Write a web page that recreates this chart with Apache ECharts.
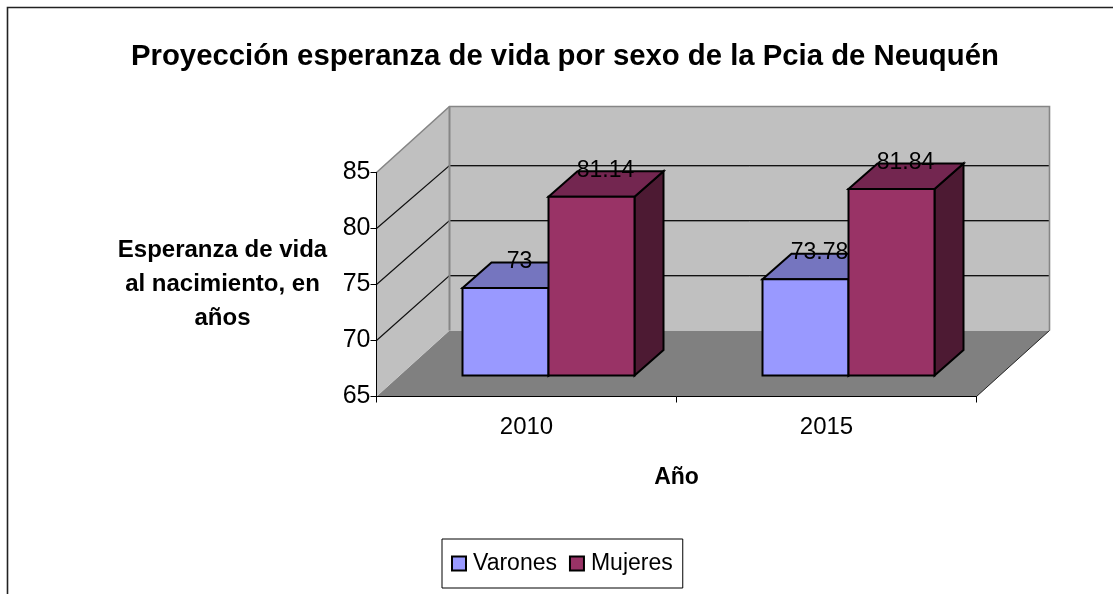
<!DOCTYPE html>
<html><head><meta charset="utf-8">
<style>html,body{margin:0;padding:0;background:#fff;overflow:hidden}#c{width:1113px;height:594px}</style>
<script src="https://cdn.jsdelivr.net/npm/echarts@6/dist/echarts.min.js"></script>
</head><body><div id="c"></div>
<script>
const categories = ['2010', '2015'];
const seriesNames = ['Varones', 'Mujeres'];
const varones = [73, 73.78];
const mujeres = [81.14, 81.84];
const yGridValues = [70, 75, 80];

const FONT = '"Liberation Sans", Arial, sans-serif';
const WALL_DX = 73, WALL_DY = -66;
const BAR_DX = 29, BAR_DY = -25.5;
const BAR_FLOOR_DY = -21, BAR_TOP_DY = -19;
const BAR_SHIFT = 22, BAR_RATIO = 86 / 300;

const chart = echarts.init(document.getElementById('c'), null, { renderer: 'canvas' });

function renderWalls(params, api) {
  const cs = params.coordSys;
  const L = cs.x, R = cs.x + cs.width, T = cs.y, B = cs.y + cs.height;
  const backY = y => (B + WALL_DY) - (B - y) * 0.982;
  const children = [
    { type: 'polygon', shape: { points: [[L, B], [L + WALL_DX, B + WALL_DY], [R + WALL_DX, B + WALL_DY], [R, B]] },
      style: { fill: '#808080' } },
    { type: 'polygon', shape: { points: [[L, T], [L + WALL_DX, T + WALL_DY], [L + WALL_DX, B + WALL_DY], [L, B]] },
      style: { fill: '#C0C0C0' } },
    { type: 'rect', shape: { x: L + WALL_DX, y: T + WALL_DY, width: R - L, height: B - T },
      style: { fill: '#C0C0C0' } }
  ];
  yGridValues.forEach(v => {
    const y = api.coord([0, v])[1];
    const by = backY(y);
    children.push({ type: 'polyline', shape: { points: [[L, y], [L + WALL_DX, by], [R + WALL_DX, by]] },
      style: { fill: null, stroke: '#111', lineWidth: 1.2 } });
    children.push({ type: 'line', shape: { x1: L + WALL_DX, y1: by + 1, x2: R + WALL_DX, y2: by + 1 },
      style: { stroke: '#808080', lineWidth: 1 } });
  });
  children.push({ type: 'polyline', shape: { points: [[L, T], [L + WALL_DX, T + WALL_DY], [R + WALL_DX, T + WALL_DY], [R + WALL_DX, B + WALL_DY]] },
    style: { fill: null, stroke: '#868686', lineWidth: 1.6 } });
  children.push({ type: 'line', shape: { x1: L + WALL_DX, y1: T + WALL_DY, x2: L + WALL_DX, y2: B + WALL_DY },
    style: { stroke: '#868686', lineWidth: 2 } });
  children.push({ type: 'line', shape: { x1: R, y1: B, x2: R + WALL_DX, y2: B + WALL_DY },
    style: { stroke: '#222', lineWidth: 1 } });
  return { type: 'group', children };
}

function barRenderer(index, front, top, side) {
  return function (params, api) {
    const w = api.size([1, 0])[0] * BAR_RATIO;
    const c = api.coord([api.value(0), api.value(1)]);
    const base = api.coord([api.value(0), 65]);
    const x0 = c[0] + BAR_SHIFT + (index - 1) * w;
    const x1 = x0 + w;
    const yT = c[1] + BAR_TOP_DY;
    const yB = base[1] + BAR_FLOOR_DY;
    const stroke = { stroke: '#000', lineWidth: 2, lineJoin: 'miter' };
    return { type: 'group', children: [
      { type: 'polygon', shape: { points: [[x1, yT], [x1 + BAR_DX, yT + BAR_DY], [x1 + BAR_DX, yB + BAR_DY], [x1, yB]] },
        style: Object.assign({ fill: side }, stroke) },
      { type: 'polygon', shape: { points: [[x0, yT], [x0 + BAR_DX, yT + BAR_DY], [x1 + BAR_DX, yT + BAR_DY], [x1, yT]] },
        style: Object.assign({ fill: top }, stroke) },
      { type: 'rect', shape: { x: x0, y: yT, width: w, height: yB - yT },
        style: Object.assign({ fill: front }, stroke) },
      { type: 'text', z2: 100, style: { text: String(api.value(1)), x: (x0 + x1) / 2 + 14, y: yT + BAR_DY - 1,
          align: 'center', verticalAlign: 'middle', font: '23px ' + FONT, fill: '#000' } }
    ] };
  };
}

const mk = arr => arr.map((v, i) => [i, v]);

chart.setOption({
  animation: false,
  backgroundColor: '#fff',
  title: {
    text: 'Proyección esperanza de vida por sexo de la Pcia de Neuquén',
    left: 131, top: 42,
    padding: 0,
    textStyle: { fontFamily: FONT, fontWeight: 'bold', fontSize: 29.3, color: '#000' }
  },
  legend: {
    data: seriesNames, left: 442, top: 539, icon: 'rect',
    itemWidth: 14, itemHeight: 14, itemGap: 12, padding: [13, 10, 13, 9],
    borderColor: '#000', borderWidth: 1, backgroundColor: '#fff',
    textStyle: { fontFamily: FONT, fontSize: 23, color: '#000', padding: [0, 0, 0, 2] },
    selectedMode: false
  },
  grid: { left: 376.5, top: 172.5, width: 600, height: 224 },
  xAxis: {
    type: 'category', data: categories, z: 5,
    name: 'Año', nameLocation: 'middle', nameGap: 70,
    nameTextStyle: { fontFamily: FONT, fontWeight: 'bold', fontSize: 23, color: '#000' },
    axisLine: { lineStyle: { color: '#000', width: 1 } },
    axisTick: { show: true, length: 6, lineStyle: { color: '#000' } },
    axisLabel: { fontFamily: FONT, fontSize: 24, color: '#000', margin: 19 },
    splitLine: { show: false }
  },
  yAxis: {
    type: 'value', min: 65, max: 85, interval: 5, z: 5,
    name: 'Esperanza de vida\nal nacimiento, en\naños', nameLocation: 'middle', nameRotate: 0, nameGap: 154,
    nameTextStyle: { fontFamily: FONT, fontWeight: 'bold', fontSize: 24, color: '#000', lineHeight: 34, align: 'center', padding: [2, 0, 0, 0] },
    axisLine: { show: true, lineStyle: { color: '#000', width: 1 } },
    axisTick: { show: true, length: 6, lineStyle: { color: '#000' } },
    axisLabel: { fontFamily: FONT, fontSize: 25, color: '#000', margin: 6, padding: [4, 0, 0, 0] },
    splitLine: { show: false }
  },
  graphic: [{ type: 'rect', silent: true, z: -1, shape: { x: 7.5, y: 7.5, width: 1110, height: 700 },
    style: { fill: null, stroke: '#222', lineWidth: 1.6 } }],
  series: [
    { type: 'custom', name: 'walls', z: 1, silent: true, renderItem: renderWalls, data: [[0, 65]], encode: { x: 0, y: 1 } },
    { type: 'custom', name: seriesNames[0], z: 2, renderItem: barRenderer(0, '#9999FF', '#7575BF', '#4D4D80'),
      itemStyle: { color: '#9999FF', borderColor: '#000', borderWidth: 2 }, data: mk(varones), encode: { x: 0, y: 1 } },
    { type: 'custom', name: seriesNames[1], z: 3, renderItem: barRenderer(1, '#993366', '#732650', '#4D1A33'),
      itemStyle: { color: '#993366', borderColor: '#000', borderWidth: 2 }, data: mk(mujeres), encode: { x: 0, y: 1 } }
  ]
});
</script></body></html>
